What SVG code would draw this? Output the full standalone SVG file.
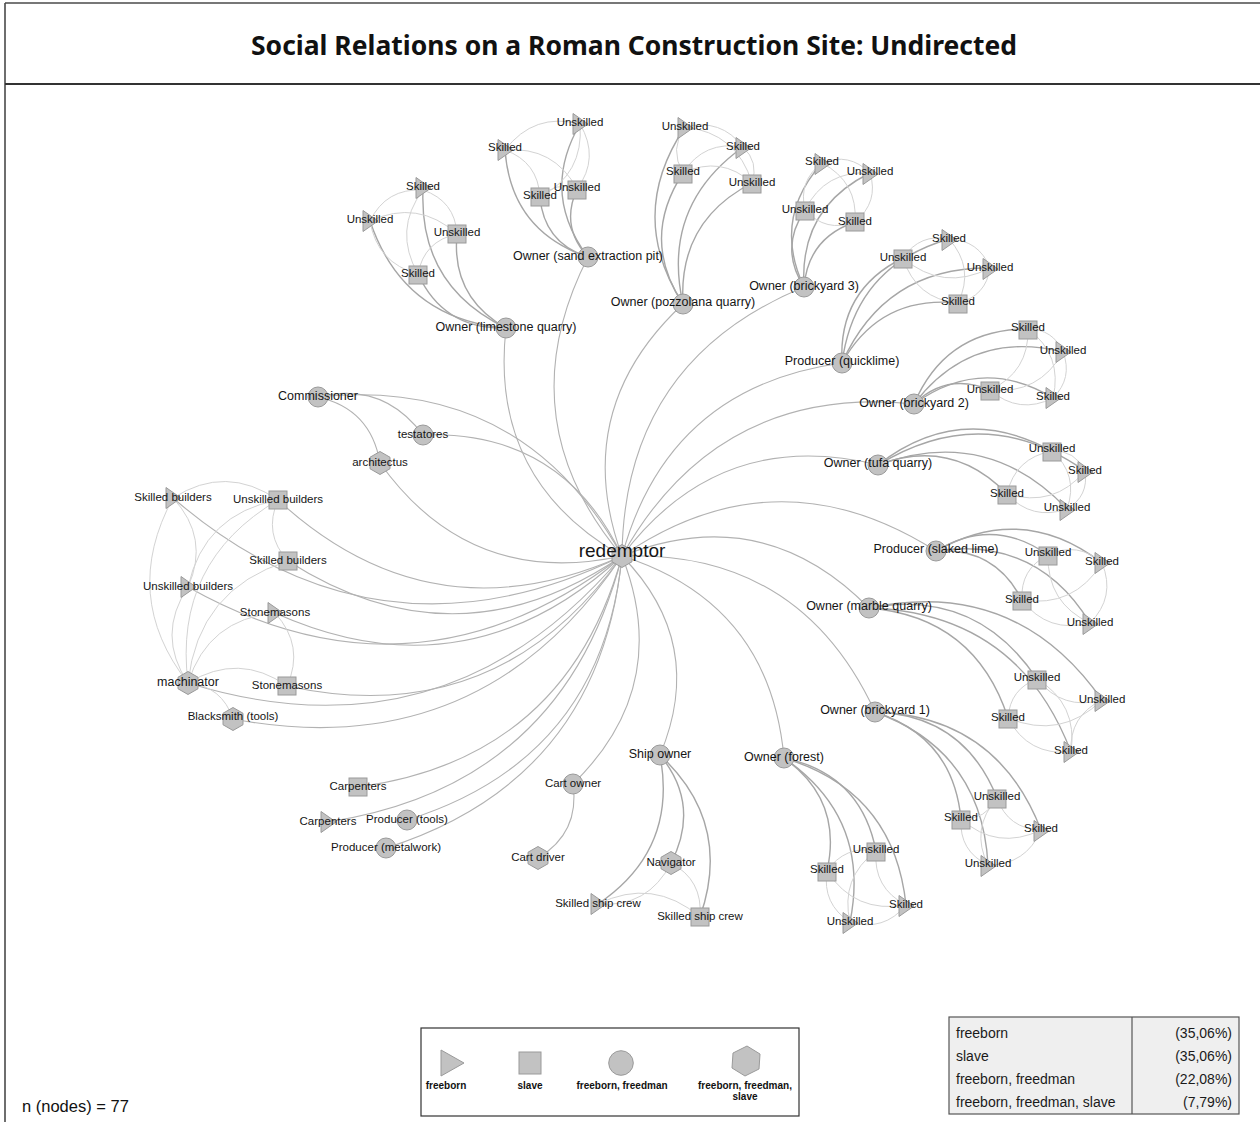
<svg xmlns="http://www.w3.org/2000/svg" xmlns:xlink="http://www.w3.org/1999/xlink" width="1260" height="1122" viewBox="0 0 1260 1122">
  <style>
    .frame { fill: none; stroke: #4a4a4a; stroke-width: 1.6; }
    .title { font-family: "Noto Sans", "Open Sans", sans-serif; font-weight: 700; font-size: 27px; fill: #111; text-anchor: middle; }
    .note { font-family: "Liberation Sans", Arial, sans-serif; font-size: 16.5px; fill: #111; }
    .e-hub { fill: none; stroke: #b2b2b2; stroke-width: 1.1; }
    .e-own { fill: none; stroke: #a6a6a6; stroke-width: 1.4; }
    .e-peer { fill: none; stroke: #d3d3d3; stroke-width: 1; }
    .shape { fill: #c2c2c2; stroke: #9a9a9a; stroke-width: 1; }
    .lbl { font-family: "Liberation Sans", Arial, sans-serif; font-size: 11.5px; fill: #151515; text-anchor: middle; }
    .lbl-m { font-size: 12.5px; }
    .lbl-l { font-size: 19px; }
    .key-box { fill: #fff; stroke: #333; stroke-width: 1.2; }
    .key-txt { font-family: "Liberation Sans", Arial, sans-serif; font-weight: 700; font-size: 10px; fill: #111; text-anchor: middle; }
    .tbl-box { fill: #efefef; stroke: #555; stroke-width: 1.2; }
    .tbl-txt { font-family: "Liberation Sans", Arial, sans-serif; font-size: 14px; fill: #1a1a1a; }
    .tbl-num { text-anchor: end; }
  </style>
  <defs>
    <polygon id="tri" points="-7,-10.5 8,0 -7,10.5"/>
    <rect id="sq" x="-9" y="-9" width="18" height="18"/>
    <circle id="cir" r="10"/>
    <polygon id="hex" points="0,-11.5 10,-5.75 10,5.75 0,11.5 -10,5.75 -10,-5.75"/>
  </defs>

  <rect width="1260" height="1122" fill="#fff"/>

  <!-- frame and header -->
  <g id="frame">
    <line class="frame" x1="5" y1="3" x2="5" y2="1122"/>
    <line class="frame" x1="5" y1="3" x2="1260" y2="3"/>
    <line x1="5" y1="84" x2="1260" y2="84" stroke="#333" stroke-width="2"/>
    <text class="title" x="634" y="55" textLength="766" lengthAdjust="spacingAndGlyphs">Social Relations on a Roman Construction Site: Undirected</text>
  </g>

  <!-- connectors -->
  <g id="edges">
    <!-- hub links -->
    <path class="e-hub" d="M622 556 Q489 480 506 328"/>
    <path class="e-hub" d="M622 556 Q506 418 588 257"/>
    <path class="e-hub" d="M622 556 Q569 410 683 304"/>
    <path class="e-hub" d="M622 556 Q624 361 804 287"/>
    <path class="e-hub" d="M622 556 Q668 387 842 363"/>
    <path class="e-hub" d="M622 556 Q718 384 914 404"/>
    <path class="e-hub" d="M622 556 Q720 426 878 465"/>
    <path class="e-hub" d="M622 556 Q777 450 936 551"/>
    <path class="e-hub" d="M622 556 Q763 500 869 608"/>
    <path class="e-hub" d="M622 556 Q800 550 875 712"/>
    <path class="e-hub" d="M622 556 Q770 603 784 758"/>
    <path class="e-hub" d="M622 556 Q707 643 660 755"/>
    <path class="e-hub" d="M622 556 Q673 686 573 784"/>
    <path class="e-hub" d="M622 556 Q600 780 386 848"/>
    <path class="e-hub" d="M622 556 Q602 759 407 820"/>
    <path class="e-hub" d="M622 556 Q563 786 328 822"/>
    <path class="e-hub" d="M622 556 Q566 759 358 787"/>
    <path class="e-hub" d="M622 556 Q481 766 233 719"/>
    <path class="e-hub" d="M622 556 Q497 732 287 686"/>
    <path class="e-hub" d="M622 556 Q447 763 188 683"/>
    <path class="e-hub" d="M622 556 Q467 699 275 613"/>
    <path class="e-hub" d="M622 556 Q415 715 188 587"/>
    <path class="e-hub" d="M622 556 Q457 669 288 561"/>
    <path class="e-hub" d="M622 556 Q378 675 173 498"/>
    <path class="e-hub" d="M622 556 Q431 641 278 500"/>
    <path class="e-hub" d="M622 556 Q470 589 380 463"/>
    <path class="e-hub" d="M318 397 Q522 376 622 556"/>
    <path class="e-hub" d="M423 435 Q562 430 622 556"/>
    <path class="e-hub" d="M318 397 Q383 381 423 435"/>
    <path class="e-hub" d="M318 397 Q371 409 380 463"/>
    <path class="e-hub" d="M573 784 Q580 833 538 858"/>

    <!-- ship crew -->
    <path class="e-own" d="M660 755 Q701 805 671 863"/>
    <path class="e-own" d="M660 755 Q678 850 598 904"/>
    <path class="e-own" d="M660 755 Q733 823 700 917"/>
    <path class="e-peer" d="M671 863 Q703 880 700 917"/>
    <path class="e-peer" d="M671 863 Q648 908 598 904"/>
    <path class="e-peer" d="M598 904 Q653 877 700 917"/>

    <!-- builders around the machinator -->
    <path class="e-peer" d="M173 498 Q210 538 188 587"/>
    <path class="e-peer" d="M188 683 Q120 596 173 498"/>
    <path class="e-peer" d="M188 683 Q173 562 278 500"/>
    <path class="e-peer" d="M188 683 Q198 589 288 561"/>
    <path class="e-peer" d="M188 683 Q156 635 188 587"/>
    <path class="e-peer" d="M188 683 Q208 619 275 613"/>
    <path class="e-peer" d="M188 683 Q239 652 287 686"/>
    <path class="e-peer" d="M188 683 Q222 686 233 719"/>
    <path class="e-peer" d="M275 613 Q305 646 287 686"/>
    <path class="e-peer" d="M173 498 Q226 464 278 500"/>
    <path class="e-peer" d="M288 561 Q263 534 278 500"/>
    <path class="e-peer" d="M188 587 Q204 514 278 500"/>

    <!-- limestone quarry -->
    <path class="e-own" d="M506 328 Q419 286 423 190"/>
    <path class="e-own" d="M506 328 Q403 319 370 221"/>
    <path class="e-own" d="M506 328 Q451 297 457 234"/>
    <path class="e-own" d="M506 328 Q444 330 418 274"/>
    <path class="e-peer" d="M370 221 Q386 188 423 190"/>
    <path class="e-peer" d="M423 190 Q455 201 457 234"/>
    <path class="e-peer" d="M418 274 Q393 230 423 190"/>
    <path class="e-peer" d="M370 221 Q418 199 457 234"/>
    <path class="e-peer" d="M418 274 Q377 263 370 221"/>
    <path class="e-peer" d="M418 274 Q424 241 457 234"/>

    <!-- sand extraction pit -->
    <path class="e-own" d="M588 257 Q511 231 505 150"/>
    <path class="e-own" d="M588 257 Q540 193 580 124"/>
    <path class="e-own" d="M588 257 Q544 243 540 197"/>
    <path class="e-own" d="M588 257 Q560 227 577 189"/>
    <path class="e-peer" d="M505 150 Q534 112 580 124"/>
    <path class="e-peer" d="M505 150 Q538 162 540 197"/>
    <path class="e-peer" d="M505 150 Q554 146 577 189"/>
    <path class="e-peer" d="M580 124 Q584 174 540 197"/>
    <path class="e-peer" d="M580 124 Q600 158 577 189"/>
    <path class="e-peer" d="M540 197 Q556 181 577 189"/>

    <!-- pozzolana quarry -->
    <path class="e-own" d="M683 304 Q626 215 685 127"/>
    <path class="e-own" d="M683 304 Q661 206 743 147"/>
    <path class="e-own" d="M683 304 Q640 239 683 173"/>
    <path class="e-own" d="M683 304 Q678 221 752 183"/>
    <path class="e-peer" d="M685 127 Q721 118 743 147"/>
    <path class="e-peer" d="M683 173 Q669 149 685 127"/>
    <path class="e-peer" d="M685 127 Q737 133 752 183"/>
    <path class="e-peer" d="M683 173 Q704 140 743 147"/>
    <path class="e-peer" d="M743 147 Q759 162 752 183"/>
    <path class="e-peer" d="M683 173 Q721 155 752 183"/>

    <!-- brickyard 3 -->
    <path class="e-own" d="M804 287 Q772 219 822 163"/>
    <path class="e-own" d="M804 287 Q799 208 870 173"/>
    <path class="e-own" d="M804 287 Q779 248 805 210"/>
    <path class="e-own" d="M804 287 Q808 238 855 222"/>
    <path class="e-peer" d="M822 163 Q849 152 870 173"/>
    <path class="e-peer" d="M805 210 Q798 181 822 163"/>
    <path class="e-peer" d="M822 163 Q858 182 855 222"/>
    <path class="e-peer" d="M805 210 Q825 170 870 173"/>
    <path class="e-peer" d="M870 173 Q879 202 855 222"/>
    <path class="e-peer" d="M855 222 Q826 233 805 210"/>

    <!-- quicklime -->
    <path class="e-own" d="M842 363 Q855 266 949 239"/>
    <path class="e-own" d="M842 363 Q838 290 903 258"/>
    <path class="e-own" d="M842 363 Q885 267 990 268"/>
    <path class="e-own" d="M842 363 Q880 295 958 303"/>
    <path class="e-peer" d="M903 258 Q920 233 949 239"/>
    <path class="e-peer" d="M949 239 Q979 240 990 268"/>
    <path class="e-peer" d="M949 239 Q975 268 958 303"/>
    <path class="e-peer" d="M990 268 Q943 292 903 258"/>
    <path class="e-peer" d="M958 303 Q916 299 903 258"/>
    <path class="e-peer" d="M990 268 Q986 296 958 303"/>

    <!-- brickyard 2 -->
    <path class="e-own" d="M914 404 Q946 329 1028 329"/>
    <path class="e-own" d="M914 404 Q971 329 1063 352"/>
    <path class="e-own" d="M914 404 Q947 372 990 390"/>
    <path class="e-own" d="M914 404 Q982 355 1053 398"/>
    <path class="e-peer" d="M1028 329 Q1053 329 1063 352"/>
    <path class="e-peer" d="M1028 329 Q1029 372 990 390"/>
    <path class="e-peer" d="M1028 329 Q1063 355 1053 398"/>
    <path class="e-peer" d="M1063 352 Q1039 395 990 390"/>
    <path class="e-peer" d="M1063 352 Q1073 378 1053 398"/>
    <path class="e-peer" d="M1053 398 Q1019 415 990 390"/>

    <!-- tufa quarry -->
    <path class="e-own" d="M878 465 Q960 401 1052 451"/>
    <path class="e-own" d="M878 465 Q984 400 1085 471"/>
    <path class="e-own" d="M878 465 Q952 437 1007 494"/>
    <path class="e-own" d="M878 465 Q987 425 1067 509"/>
    <path class="e-peer" d="M1052 451 Q1075 450 1085 471"/>
    <path class="e-peer" d="M1007 494 Q1015 458 1052 451"/>
    <path class="e-peer" d="M1052 451 Q1079 475 1067 509"/>
    <path class="e-peer" d="M1085 471 Q1054 508 1007 494"/>
    <path class="e-peer" d="M1085 471 Q1089 496 1067 509"/>
    <path class="e-peer" d="M1067 509 Q1032 521 1007 494"/>

    <!-- slaked lime -->
    <path class="e-own" d="M936 551 Q993 516 1048 555"/>
    <path class="e-own" d="M936 551 Q1023 502 1102 563"/>
    <path class="e-own" d="M936 551 Q995 547 1022 600"/>
    <path class="e-own" d="M936 551 Q1037 536 1090 623"/>
    <path class="e-peer" d="M1048 555 Q1078 541 1102 563"/>
    <path class="e-peer" d="M1022 600 Q1020 569 1048 555"/>
    <path class="e-peer" d="M1090 623 Q1047 603 1048 555"/>
    <path class="e-peer" d="M1102 563 Q1074 608 1022 600"/>
    <path class="e-peer" d="M1102 563 Q1116 597 1090 623"/>
    <path class="e-peer" d="M1090 623 Q1048 634 1022 600"/>

    <!-- marble quarry -->
    <path class="e-own" d="M869 608 Q976 588 1037 679"/>
    <path class="e-own" d="M869 608 Q1016 577 1102 700"/>
    <path class="e-own" d="M869 608 Q975 617 1008 718"/>
    <path class="e-own" d="M869 608 Q1018 613 1071 752"/>
    <path class="e-peer" d="M1102 700 Q1063 711 1037 679"/>
    <path class="e-peer" d="M1008 718 Q1010 689 1037 679"/>
    <path class="e-peer" d="M1037 679 Q1078 704 1071 752"/>
    <path class="e-peer" d="M1102 700 Q1061 740 1008 718"/>
    <path class="e-peer" d="M1071 752 Q1069 716 1102 700"/>
    <path class="e-peer" d="M1071 752 Q1028 756 1008 718"/>

    <!-- brickyard 1 -->
    <path class="e-own" d="M875 712 Q964 715 997 798"/>
    <path class="e-own" d="M875 712 Q953 737 961 819"/>
    <path class="e-own" d="M875 712 Q997 716 1041 830"/>
    <path class="e-own" d="M875 712 Q982 751 988 865"/>
    <path class="e-peer" d="M997 798 Q986 820 961 819"/>
    <path class="e-peer" d="M1041 830 Q1008 829 997 798"/>
    <path class="e-peer" d="M988 865 Q970 829 997 798"/>
    <path class="e-peer" d="M1041 830 Q997 851 961 819"/>
    <path class="e-peer" d="M988 865 Q959 851 961 819"/>
    <path class="e-peer" d="M1041 830 Q1026 865 988 865"/>

    <!-- forest -->
    <path class="e-own" d="M784 758 Q861 774 876 851"/>
    <path class="e-own" d="M784 758 Q843 800 827 871"/>
    <path class="e-own" d="M784 758 Q894 791 906 905"/>
    <path class="e-own" d="M784 758 Q871 818 850 922"/>
    <path class="e-peer" d="M827 871 Q845 845 876 851"/>
    <path class="e-peer" d="M906 905 Q873 888 876 851"/>
    <path class="e-peer" d="M850 922 Q840 878 876 851"/>
    <path class="e-peer" d="M906 905 Q855 914 827 871"/>
    <path class="e-peer" d="M850 922 Q822 904 827 871"/>
    <path class="e-peer" d="M906 905 Q884 932 850 922"/>
  </g>

  <!-- nodes -->
  <g id="nodes">
    <g id="n-redemptor" transform="translate(622,556)"><use href="#hex" class="shape"/><text class="lbl lbl-l" y="1">redemptor</text></g>

    <g id="n-commissioner" transform="translate(318,397)"><use href="#cir" class="shape"/><text class="lbl lbl-m" y="3">Commissioner</text></g>
    <g id="n-testatores" transform="translate(423,435)"><use href="#cir" class="shape"/><text class="lbl" y="3">testatores</text></g>
    <g id="n-architectus" transform="translate(380,463)"><use href="#hex" class="shape"/><text class="lbl" y="3">architectus</text></g>

    <g id="n-skilled-builders-free" transform="translate(173,498)"><use href="#tri" class="shape"/><text class="lbl" y="3">Skilled builders</text></g>
    <g id="n-unskilled-builders-slave" transform="translate(278,500)"><use href="#sq" class="shape"/><text class="lbl" y="3">Unskilled builders</text></g>
    <g id="n-skilled-builders-slave" transform="translate(288,561)"><use href="#sq" class="shape"/><text class="lbl" y="3">Skilled builders</text></g>
    <g id="n-unskilled-builders-free" transform="translate(188,587)"><use href="#tri" class="shape"/><text class="lbl" y="3">Unskilled builders</text></g>
    <g id="n-stonemasons-free" transform="translate(275,613)"><use href="#tri" class="shape"/><text class="lbl" y="3">Stonemasons</text></g>
    <g id="n-machinator" transform="translate(188,683)"><use href="#hex" class="shape"/><text class="lbl lbl-m" y="3">machinator</text></g>
    <g id="n-stonemasons-slave" transform="translate(287,686)"><use href="#sq" class="shape"/><text class="lbl" y="3">Stonemasons</text></g>
    <g id="n-blacksmith" transform="translate(233,719)"><use href="#hex" class="shape"/><text class="lbl" y="1">Blacksmith (tools)</text></g>

    <g id="n-carpenters-slave" transform="translate(358,787)"><use href="#sq" class="shape"/><text class="lbl" y="3">Carpenters</text></g>
    <g id="n-carpenters-free" transform="translate(328,822)"><use href="#tri" class="shape"/><text class="lbl" y="3">Carpenters</text></g>
    <g id="n-producer-tools" transform="translate(407,820)"><use href="#cir" class="shape"/><text class="lbl" y="3">Producer (tools)</text></g>
    <g id="n-producer-metalwork" transform="translate(386,848)"><use href="#cir" class="shape"/><text class="lbl" y="3">Producer (metalwork)</text></g>

    <g id="n-cart-owner" transform="translate(573,784)"><use href="#cir" class="shape"/><text class="lbl" y="3">Cart owner</text></g>
    <g id="n-cart-driver" transform="translate(538,858)"><use href="#hex" class="shape"/><text class="lbl" y="3">Cart driver</text></g>

    <g id="n-ship-owner" transform="translate(660,755)"><use href="#cir" class="shape"/><text class="lbl lbl-m" y="3">Ship owner</text></g>
    <g id="n-navigator" transform="translate(671,863)"><use href="#hex" class="shape"/><text class="lbl" y="3">Navigator</text></g>
    <g id="n-ship-crew-free" transform="translate(598,904)"><use href="#tri" class="shape"/><text class="lbl" y="3">Skilled ship crew</text></g>
    <g id="n-ship-crew-slave" transform="translate(700,917)"><use href="#sq" class="shape"/><text class="lbl" y="3">Skilled ship crew</text></g>

    <!-- limestone quarry -->
    <g id="n-limestone-owner" transform="translate(506,328)"><use href="#cir" class="shape"/><text class="lbl lbl-m" y="3">Owner (limestone quarry)</text></g>
    <g id="n-limestone-skilled-free" transform="translate(423,188)"><use href="#tri" class="shape"/><text class="lbl" y="2">Skilled</text></g>
    <g id="n-limestone-unskilled-free" transform="translate(370,221)"><use href="#tri" class="shape"/><text class="lbl" y="2">Unskilled</text></g>
    <g id="n-limestone-unskilled-slave" transform="translate(457,234)"><use href="#sq" class="shape"/><text class="lbl" y="2">Unskilled</text></g>
    <g id="n-limestone-skilled-slave" transform="translate(418,275)"><use href="#sq" class="shape"/><text class="lbl" y="2">Skilled</text></g>

    <!-- sand extraction pit -->
    <g id="n-sand-owner" transform="translate(588,257)"><use href="#cir" class="shape"/><text class="lbl lbl-m" y="3">Owner (sand extraction pit)</text></g>
    <g id="n-sand-skilled-free" transform="translate(505,150)"><use href="#tri" class="shape"/><text class="lbl" y="1">Skilled</text></g>
    <g id="n-sand-unskilled-free" transform="translate(580,124)"><use href="#tri" class="shape"/><text class="lbl" y="2">Unskilled</text></g>
    <g id="n-sand-skilled-slave" transform="translate(540,197)"><use href="#sq" class="shape"/><text class="lbl" y="2">Skilled</text></g>
    <g id="n-sand-unskilled-slave" transform="translate(577,190)"><use href="#sq" class="shape"/><text class="lbl" y="1">Unskilled</text></g>

    <!-- pozzolana quarry -->
    <g id="n-pozzolana-owner" transform="translate(683,304)"><use href="#cir" class="shape"/><text class="lbl lbl-m" y="2">Owner (pozzolana quarry)</text></g>
    <g id="n-pozzolana-unskilled-free" transform="translate(685,128)"><use href="#tri" class="shape"/><text class="lbl" y="2">Unskilled</text></g>
    <g id="n-pozzolana-skilled-free" transform="translate(743,148)"><use href="#tri" class="shape"/><text class="lbl" y="2">Skilled</text></g>
    <g id="n-pozzolana-skilled-slave" transform="translate(683,174)"><use href="#sq" class="shape"/><text class="lbl" y="1">Skilled</text></g>
    <g id="n-pozzolana-unskilled-slave" transform="translate(752,184)"><use href="#sq" class="shape"/><text class="lbl" y="2">Unskilled</text></g>

    <!-- brickyard 3 -->
    <g id="n-brickyard3-owner" transform="translate(804,287)"><use href="#cir" class="shape"/><text class="lbl lbl-m" y="3">Owner (brickyard 3)</text></g>
    <g id="n-brickyard3-skilled-free" transform="translate(822,164)"><use href="#tri" class="shape"/><text class="lbl" y="1">Skilled</text></g>
    <g id="n-brickyard3-unskilled-free" transform="translate(870,174)"><use href="#tri" class="shape"/><text class="lbl" y="1">Unskilled</text></g>
    <g id="n-brickyard3-unskilled-slave" transform="translate(805,211)"><use href="#sq" class="shape"/><text class="lbl" y="2">Unskilled</text></g>
    <g id="n-brickyard3-skilled-slave" transform="translate(855,222)"><use href="#sq" class="shape"/><text class="lbl" y="3">Skilled</text></g>

    <!-- quicklime -->
    <g id="n-quicklime-producer" transform="translate(842,363)"><use href="#cir" class="shape"/><text class="lbl lbl-m" y="2">Producer (quicklime)</text></g>
    <g id="n-quicklime-skilled-free" transform="translate(949,240)"><use href="#tri" class="shape"/><text class="lbl" y="2">Skilled</text></g>
    <g id="n-quicklime-unskilled-slave" transform="translate(903,259)"><use href="#sq" class="shape"/><text class="lbl" y="2">Unskilled</text></g>
    <g id="n-quicklime-unskilled-free" transform="translate(990,269)"><use href="#tri" class="shape"/><text class="lbl" y="2">Unskilled</text></g>
    <g id="n-quicklime-skilled-slave" transform="translate(958,304)"><use href="#sq" class="shape"/><text class="lbl" y="1">Skilled</text></g>

    <!-- brickyard 2 -->
    <g id="n-brickyard2-owner" transform="translate(914,404)"><use href="#cir" class="shape"/><text class="lbl lbl-m" y="3">Owner (brickyard 2)</text></g>
    <g id="n-brickyard2-skilled-slave" transform="translate(1028,330)"><use href="#sq" class="shape"/><text class="lbl" y="1">Skilled</text></g>
    <g id="n-brickyard2-unskilled-free" transform="translate(1063,352)"><use href="#tri" class="shape"/><text class="lbl" y="2">Unskilled</text></g>
    <g id="n-brickyard2-unskilled-slave" transform="translate(990,391)"><use href="#sq" class="shape"/><text class="lbl" y="2">Unskilled</text></g>
    <g id="n-brickyard2-skilled-free" transform="translate(1053,398)"><use href="#tri" class="shape"/><text class="lbl" y="2">Skilled</text></g>

    <!-- tufa quarry -->
    <g id="n-tufa-owner" transform="translate(878,465)"><use href="#cir" class="shape"/><text class="lbl lbl-m" y="2">Owner (tufa quarry)</text></g>
    <g id="n-tufa-unskilled-slave" transform="translate(1052,452)"><use href="#sq" class="shape"/><text class="lbl" y="0">Unskilled</text></g>
    <g id="n-tufa-skilled-free" transform="translate(1085,472)"><use href="#tri" class="shape"/><text class="lbl" y="2">Skilled</text></g>
    <g id="n-tufa-skilled-slave" transform="translate(1007,495)"><use href="#sq" class="shape"/><text class="lbl" y="2">Skilled</text></g>
    <g id="n-tufa-unskilled-free" transform="translate(1067,510)"><use href="#tri" class="shape"/><text class="lbl" y="1">Unskilled</text></g>

    <!-- slaked lime -->
    <g id="n-slaked-producer" transform="translate(936,551)"><use href="#cir" class="shape"/><text class="lbl lbl-m" y="2">Producer (slaked lime)</text></g>
    <g id="n-slaked-unskilled-slave" transform="translate(1048,556)"><use href="#sq" class="shape"/><text class="lbl" y="0">Unskilled</text></g>
    <g id="n-slaked-skilled-free" transform="translate(1102,563)"><use href="#tri" class="shape"/><text class="lbl" y="2">Skilled</text></g>
    <g id="n-slaked-skilled-slave" transform="translate(1022,601)"><use href="#sq" class="shape"/><text class="lbl" y="2">Skilled</text></g>
    <g id="n-slaked-unskilled-free" transform="translate(1090,624)"><use href="#tri" class="shape"/><text class="lbl" y="2">Unskilled</text></g>

    <!-- marble quarry -->
    <g id="n-marble-owner" transform="translate(869,608)"><use href="#cir" class="shape"/><text class="lbl lbl-m" y="2">Owner (marble quarry)</text></g>
    <g id="n-marble-unskilled-slave" transform="translate(1037,680)"><use href="#sq" class="shape"/><text class="lbl" y="1">Unskilled</text></g>
    <g id="n-marble-unskilled-free" transform="translate(1102,701)"><use href="#tri" class="shape"/><text class="lbl" y="2">Unskilled</text></g>
    <g id="n-marble-skilled-slave" transform="translate(1008,719)"><use href="#sq" class="shape"/><text class="lbl" y="2">Skilled</text></g>
    <g id="n-marble-skilled-free" transform="translate(1071,752)"><use href="#tri" class="shape"/><text class="lbl" y="2">Skilled</text></g>

    <!-- brickyard 1 -->
    <g id="n-brickyard1-owner" transform="translate(875,712)"><use href="#cir" class="shape"/><text class="lbl lbl-m" y="2">Owner (brickyard 1)</text></g>
    <g id="n-brickyard1-unskilled-slave" transform="translate(997,799)"><use href="#sq" class="shape"/><text class="lbl" y="1">Unskilled</text></g>
    <g id="n-brickyard1-skilled-slave" transform="translate(961,820)"><use href="#sq" class="shape"/><text class="lbl" y="1">Skilled</text></g>
    <g id="n-brickyard1-skilled-free" transform="translate(1041,831)"><use href="#tri" class="shape"/><text class="lbl" y="1">Skilled</text></g>
    <g id="n-brickyard1-unskilled-free" transform="translate(988,866)"><use href="#tri" class="shape"/><text class="lbl" y="1">Unskilled</text></g>

    <!-- forest -->
    <g id="n-forest-owner" transform="translate(784,758)"><use href="#cir" class="shape"/><text class="lbl lbl-m" y="3">Owner (forest)</text></g>
    <g id="n-forest-unskilled-slave" transform="translate(876,852)"><use href="#sq" class="shape"/><text class="lbl" y="1">Unskilled</text></g>
    <g id="n-forest-skilled-slave" transform="translate(827,872)"><use href="#sq" class="shape"/><text class="lbl" y="1">Skilled</text></g>
    <g id="n-forest-skilled-free" transform="translate(906,906)"><use href="#tri" class="shape"/><text class="lbl" y="2">Skilled</text></g>
    <g id="n-forest-unskilled-free" transform="translate(850,923)"><use href="#tri" class="shape"/><text class="lbl" y="2">Unskilled</text></g>
  </g>

  <!-- node count -->
  <text class="note" x="22" y="1112">n (nodes) = 77</text>

  <!-- shape key -->
  <g id="key">
    <rect class="key-box" x="421" y="1028" width="378" height="88"/>
    <polygon class="shape" points="441,1050 464,1063 441,1076"/>
    <rect class="shape" x="519" y="1052" width="22" height="22"/>
    <circle class="shape" cx="621" cy="1063" r="12.3"/>
    <polygon class="shape" points="747,1046 760,1054 759,1069 745,1076 732,1068 733,1053"/>
    <text class="key-txt" x="446" y="1089">freeborn</text>
    <text class="key-txt" x="530" y="1089">slave</text>
    <text class="key-txt" x="622" y="1089">freeborn, freedman</text>
    <text class="key-txt" x="745" y="1089">freeborn, freedman,</text>
    <text class="key-txt" x="745" y="1100">slave</text>
  </g>

  <!-- share table -->
  <g id="shares">
    <rect class="tbl-box" x="949" y="1017" width="290" height="97"/>
    <line x1="1132" y1="1017" x2="1132" y2="1114" stroke="#555" stroke-width="1.2"/>
    <text class="tbl-txt" x="956" y="1038">freeborn</text>
    <text class="tbl-txt" x="956" y="1061">slave</text>
    <text class="tbl-txt" x="956" y="1084">freeborn, freedman</text>
    <text class="tbl-txt" x="956" y="1107">freeborn, freedman, slave</text>
    <text class="tbl-txt tbl-num" x="1232" y="1038">(35,06%)</text>
    <text class="tbl-txt tbl-num" x="1232" y="1061">(35,06%)</text>
    <text class="tbl-txt tbl-num" x="1232" y="1084">(22,08%)</text>
    <text class="tbl-txt tbl-num" x="1232" y="1107">(7,79%)</text>
  </g>
</svg>
